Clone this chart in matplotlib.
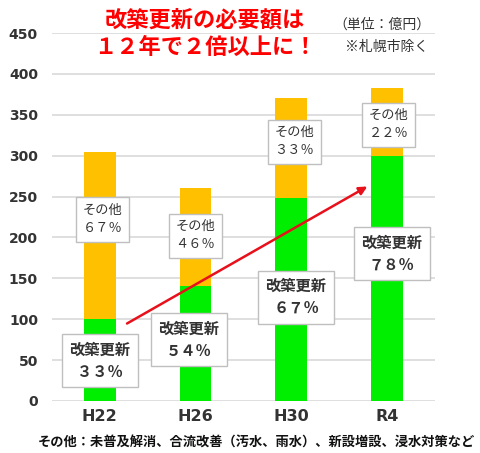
import matplotlib
matplotlib.use('Agg')
import matplotlib.pyplot as plt

plt.rcParams['font.family'] = ['Noto Sans CJK JP', 'DejaVu Sans']

# data (unit: 100 million yen)
years = ['H22', 'H26', 'H30', 'R4']
renewal = [100, 140, 248, 300]     # 改築更新
other = [205, 120, 122, 83]        # その他
renewal_pct = ['３３％', '５４％', '６７％', '７８％']
other_pct = ['６７％', '４６％', '３３％', '２２％']
# label anchor points (x offset, y value)
renewal_lbl = [(0.0, 49), (-0.07, 75), (0.05, 127), (0.05, 180)]
other_lbl = [(0.03, 222), (0.0, 202), (0.03, 317), (0.02, 338)]

c_green = '#00EE00'
c_orange = '#FFC000'
fs_box = 10

fig = plt.figure(figsize=(4.8, 4.53), dpi=100)
ax = fig.add_axes([0.108, 0.115, 0.798, 0.812])
x = range(len(years))
ax.bar(x, renewal, width=0.33, color=c_green, zorder=2)
ax.bar(x, other, width=0.33, bottom=renewal, color=c_orange, zorder=2)

ax.set_xlim(-0.5, 3.5)
ax.set_ylim(0, 450)
ax.set_yticks(range(0, 451, 50))
ax.yaxis.grid(True, color='#d9d9d9', lw=1.2, zorder=0)
for s in ax.spines.values():
    s.set_visible(False)
ax.tick_params(length=0)
ax.tick_params(axis='y', labelsize=10, labelcolor='#333333', pad=10)
ax.tick_params(axis='x', labelsize=11.5, labelcolor='#333333', pad=6)
ax.set_xticks(list(x))
ax.set_xticklabels(years, family='DejaVu Sans', fontweight='bold')
for t in ax.get_yticklabels():
    t.set_family('DejaVu Sans')
    t.set_fontweight('bold')

# arrow
ax.annotate('', xy=(2.82, 264), xytext=(0.26, 93),
            arrowprops=dict(arrowstyle='-|>', color='#e8101a', lw=1.8,
                            mutation_scale=12), zorder=4)

box = dict(boxstyle='square,pad=0.5', fc='white', ec='#bfbfbf', lw=1)
for i in range(len(years)):
    dx, y = other_lbl[i]
    ax.text(i + dx, y, 'その他\n' + other_pct[i], ha='center', va='center',
            fontsize=fs_box - 0.5, color='#333333', linespacing=1.5, bbox=box, zorder=5)
    dx, y = renewal_lbl[i]
    ax.text(i + dx, y, '改築更新\n' + renewal_pct[i], ha='center', va='center',
            fontsize=fs_box + 1, fontweight='bold', color='#333333',
            linespacing=1.45, bbox=box, zorder=5)

fig.text(0.427, 0.955, '改築更新の必要額は', ha='center', va='center',
         fontsize=16, fontweight='bold', color='#ff0000')
fig.text(0.427, 0.895, '１２年で２倍以上に！', ha='center', va='center',
         fontsize=16, fontweight='bold', color='#ff0000')
fig.text(0.795, 0.945, '（単位：億円）', ha='center', va='center',
         fontsize=10, color='#333333')
fig.text(0.805, 0.897, '※札幌市除く', ha='center', va='center',
         fontsize=10, color='#333333')
fig.text(0.535, 0.022, 'その他：未普及解消、合流改善（汚水、雨水）、新設増設、浸水対策など',
         ha='center', va='center', fontsize=9.5, fontweight='bold', color='#111111')

fig.savefig('out.png', dpi=100)
